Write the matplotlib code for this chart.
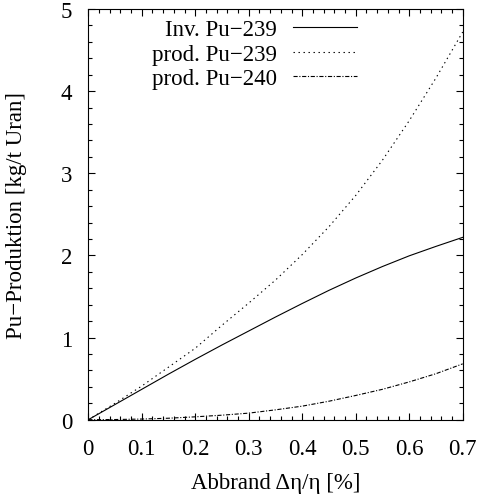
import matplotlib
matplotlib.use("Agg")
import matplotlib.pyplot as plt
from matplotlib.ticker import MultipleLocator, FormatStrFormatter

# Data
abbrand = [0.0, 0.05, 0.10, 0.15, 0.20, 0.25, 0.30, 0.35, 0.40, 0.45, 0.50, 0.55, 0.60, 0.65, 0.70]
inv_pu239 = [0.0, 0.185, 0.37, 0.555, 0.735, 0.91, 1.08, 1.25, 1.415, 1.575, 1.725, 1.865, 1.995, 2.11, 2.22]
prod_pu239 = [0.0, 0.20, 0.41, 0.64, 0.87, 1.15, 1.42, 1.70, 2.01, 2.35, 2.73, 3.16, 3.64, 4.16, 4.72]
prod_pu240 = [0.0, 0.002, 0.008, 0.018, 0.035, 0.055, 0.08, 0.12, 0.165, 0.225, 0.295, 0.37, 0.46, 0.56, 0.68]

series_labels = ["Inv. Pu\u2212239", "prod. Pu\u2212239", "prod. Pu\u2212240"]
x_label = "Abbrand \u0394\u03b7/\u03b7 [%]"
y_label = "Pu\u2212Produktion [kg/t Uran]"

plt.rcParams['font.family'] = ['Liberation Serif', 'DejaVu Serif']
plt.rcParams['lines.scale_dashes'] = False

W, H = 481, 502
fig = plt.figure(figsize=(W / 100, H / 100), dpi=100)
L, R, T, B = 88.3, 462.7, 10.0, 420.7
ax = fig.add_axes([L / W, 1 - B / H, (R - L) / W, (B - T) / H])

lw = 0.8
ax.plot(abbrand, inv_pu239, color='black', lw=lw, linestyle='-', label=series_labels[0])
ax.plot(abbrand, prod_pu239, color='black', lw=lw, linestyle=(0, (1.0, 2.6)), label=series_labels[1])
ax.plot(abbrand, prod_pu240, color='black', lw=lw, linestyle=(0, (3.0, 1.2, 0.8, 1.2)), label=series_labels[2])

ax.set_xlim(0, 0.7)
ax.set_ylim(0, 5)
ax.xaxis.set_major_locator(MultipleLocator(0.1))
ax.xaxis.set_minor_locator(MultipleLocator(0.02))
ax.yaxis.set_major_locator(MultipleLocator(1))
ax.yaxis.set_minor_locator(MultipleLocator(0.2))

def xfmt(v, pos):
    return "0" if abs(v) < 1e-9 else f"{v:.1f}"
ax.xaxis.set_major_formatter(matplotlib.ticker.FuncFormatter(xfmt))
ax.yaxis.set_major_formatter(FormatStrFormatter('%d'))

fs = 16.5
ax.tick_params(which='both', direction='in', top=True, right=True, width=0.8, labelsize=fs, color='black')
ax.tick_params(which='major', length=5)
ax.tick_params(which='minor', length=2.6)
ax.tick_params(axis='x', which='major', pad=13)
ax.tick_params(axis='y', which='major', pad=11.5)
for s in ax.spines.values():
    s.set_linewidth(0.8)

ax.set_xlabel(x_label, fontsize=fs)
ax.set_ylabel(y_label, fontsize=fs)
ax.xaxis.set_label_coords(0.5, -0.127)
ax.yaxis.set_label_coords(-0.163, 0.5)

leg = ax.legend(loc='upper right', bbox_to_anchor=(357 / W, 1 - 20 / H), bbox_transform=fig.transFigure,
                frameon=False, markerfirst=False, fontsize=fs, handlelength=2.8, handletextpad=0.7,
                labelspacing=0.15, borderpad=0, borderaxespad=0)

fig.savefig("out.png", dpi=100)
